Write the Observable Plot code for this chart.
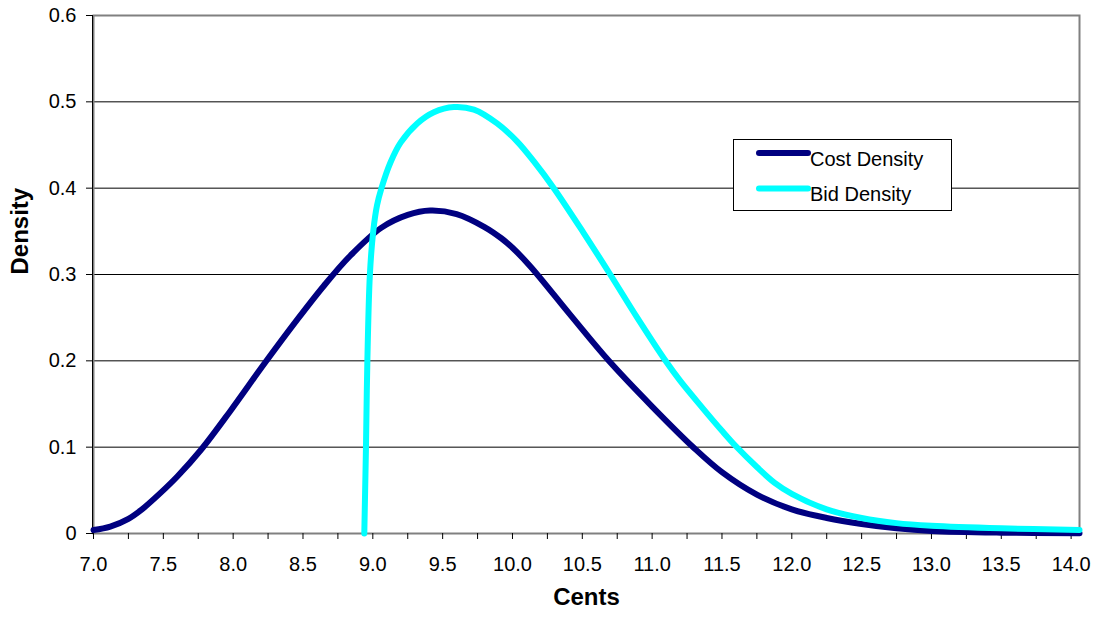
<!DOCTYPE html>
<html>
<head>
<meta charset="utf-8">
<script src="https://cdn.jsdelivr.net/npm/d3@7"></script>
<script src="https://cdn.jsdelivr.net/npm/@observablehq/plot@0.6"></script>
<style>
  html, body { margin: 0; padding: 0; background: #fff; }
  #chart { position: relative; width: 1101px; height: 618px; }
  #legend { position: absolute; left: 733px; top: 139px; }
</style>
</head>
<body>
<div id="chart"></div>
<script>
// Cost density curve (cents → density)
const costCents   = [7.0, 7.12, 7.25, 7.34, 7.48, 7.6, 7.77, 7.98, 8.22, 8.46, 8.65, 8.84, 9.06, 9.25, 9.41, 9.6, 9.8, 9.92, 10.0, 10.13, 10.42, 10.69, 11.0, 11.3, 11.5, 11.75, 12.0, 12.25, 12.5, 12.75, 13.0, 13.5, 14.06];
const costDensity = [0.004, 0.008, 0.017, 0.027, 0.047, 0.066, 0.097, 0.142, 0.196, 0.248, 0.287, 0.322, 0.354, 0.369, 0.374, 0.37, 0.355, 0.342, 0.331, 0.309, 0.252, 0.2, 0.147, 0.099, 0.071, 0.045, 0.028, 0.018, 0.011, 0.006, 0.003, 0.001, 0.0003];

// Bid density curve (cents → density)
const bidCents   = [8.939, 8.945, 8.951, 8.961, 8.979, 9.003, 9.03, 9.062, 9.127, 9.2, 9.318, 9.437, 9.58, 9.724, 9.89, 10.034, 10.153, 10.296, 10.51, 10.7, 10.893, 11.096, 11.2, 11.363, 11.5, 11.6, 11.75, 11.875, 12.0, 12.25, 12.5, 12.75, 13.0, 13.5, 14.06];
const bidDensity = [0, 0.05, 0.1, 0.2, 0.3, 0.35, 0.38, 0.4, 0.43, 0.453, 0.475, 0.488, 0.494, 0.491, 0.475, 0.454, 0.431, 0.4, 0.348, 0.3, 0.25, 0.2, 0.177, 0.145, 0.119, 0.101, 0.077, 0.059, 0.046, 0.028, 0.018, 0.012, 0.009, 0.006, 0.004];

const seriesNames  = ["Cost Density", "Bid Density"];
const seriesColors = ["#000080", "#00FFFF"];

// Axis ticks
const yTicks      = [0, 0.1, 0.2, 0.3, 0.4, 0.5, 0.6];
const xMajorTicks = [7.0, 7.5, 8.0, 8.5, 9.0, 9.5, 10.0, 10.5, 11.0, 11.5, 12.0, 12.5, 13.0, 13.5, 14.0];
const xMinorTicks = [7.0, 7.25, 7.5, 7.75, 8.0, 8.25, 8.5, 8.75, 9.0, 9.25, 9.5, 9.75, 10.0, 10.25, 10.5, 10.75, 11.0, 11.25, 11.5, 11.75, 12.0, 12.25, 12.5, 12.75, 13.0, 13.25, 13.5, 13.75, 14.0];

const cost = costCents.map((x, i) => ({x, y: costDensity[i]}));
const bid  = bidCents.map((x, i) => ({x, y: bidDensity[i]}));

const plot = Plot.plot({
  width: 1101,
  height: 618,
  marginLeft: 93,
  marginRight: 22,
  marginTop: 15,
  marginBottom: 85,
  style: {fontFamily: "'Liberation Sans', Arial, sans-serif", fontSize: "20px", background: "#fff", color: "#000"},
  x: {domain: [7, 14.06]},
  y: {domain: [0, 0.6]},
  marks: [
    Plot.gridY(yTicks.slice(1), {stroke: "#000", strokeOpacity: 1, strokeWidth: 1}),
    Plot.frame({stroke: "#808080", strokeWidth: 2}),
    Plot.ruleX([7], {stroke: "#000", strokeWidth: 1, dx: -1}),
    Plot.axisY({ticks: yTicks, tickSize: 7, tickPadding: 10, label: null,
      tickFormat: d => d === 0 ? "0" : d.toFixed(1)}),
    Plot.axisX({ticks: xMinorTicks, tickSize: 6, label: null, tickFormat: () => ""}),
    Plot.axisX({ticks: xMajorTicks, tickSize: 0, tickPadding: 23, label: null,
      tickFormat: d => d.toFixed(1)}),
    Plot.line(cost, {x: "x", y: "y", stroke: seriesColors[0], strokeWidth: 6, curve: "catmull-rom"}),
    Plot.line(bid, {x: "x", y: "y", stroke: seriesColors[1], strokeWidth: 6, curve: "catmull-rom"}),
    Plot.text(["Cents"], {text: d => d, frameAnchor: "bottom", dy: 71, fontSize: 24, fontWeight: "bold"}),
    Plot.text(["Density"], {text: d => d, frameAnchor: "left", dx: -73, rotate: -90, fontSize: 24, fontWeight: "bold"})
  ]
});

const chart = document.getElementById("chart");
chart.appendChild(plot);

// Legend box
const legend = d3.select(chart).append("svg")
  .attr("id", "legend")
  .attr("width", 219)
  .attr("height", 72)
  .style("font-family", "'Liberation Sans', Arial, sans-serif");
legend.append("rect")
  .attr("x", 0.5).attr("y", 0.5).attr("width", 218).attr("height", 71)
  .attr("fill", "#fff").attr("stroke", "#000");
seriesNames.forEach((name, i) => {
  const lineY = 14 + i * 35.6;
  legend.append("line")
    .attr("x1", 26).attr("x2", 75).attr("y1", lineY).attr("y2", lineY)
    .attr("stroke", seriesColors[i]).attr("stroke-width", 6).attr("stroke-linecap", "round");
  legend.append("text")
    .attr("x", 77).attr("y", 27 + i * 35.4)
    .attr("font-size", 20).attr("fill", "#000")
    .text(name);
});
</script>
</body>
</html>
